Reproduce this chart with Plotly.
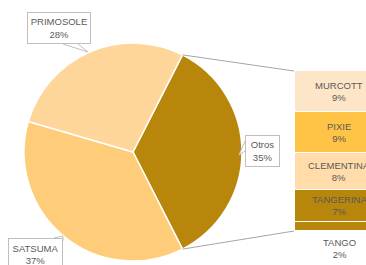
import math
import plotly.graph_objects as go

# ---- data ----
pie_labels = ["Otros", "SATSUMA", "PRIMOSOLE"]
pie_values = [35, 37, 28]
pie_colors = ["#B8860B", "#FFCC7A", "#FFD699"]

bar_labels = ["MURCOTT", "PIXIE", "CLEMENTINA", "TANGERINA", "TANGO"]
bar_values = [9, 9, 8, 7, 2]
bar_colors = ["#FDE5C8", "#FFC445", "#FFDCAA", "#B8860B", "#B8860B"]

W, H = 366, 265
TXT = "#595959"
FONT = "Liberation Sans"

# pie geometry (pixels)
cx, cy, r = 133, 152, 109
total = sum(pie_values)
otros_deg = pie_values[0] / total * 360
rotation = 90 - otros_deg / 2

def px(x):
    return x / W

def py(y):
    return 1 - y / H

fig = go.Figure()
fig.add_trace(go.Pie(
    labels=pie_labels, values=pie_values, sort=False, direction="clockwise",
    rotation=rotation, textinfo="none", hoverinfo="label+percent",
    marker=dict(colors=pie_colors, line=dict(color="white", width=1.5)),
    domain=dict(x=[px(cx - r), px(cx + r)], y=[py(cy + r), py(cy - r)]),
    showlegend=False,
))

# stacked bar (bottom-up order)
bar_total = sum(bar_values)
bar_top_px, bar_bot_px = 71, 231
bar_left_px, bar_w_px = 295, 88
ppu = (bar_bot_px - bar_top_px) / bar_total
y_lo = -(H - bar_bot_px) / ppu
y_hi = bar_total + bar_top_px / ppu
x_right = -0.5 + (W - bar_left_px) / bar_w_px

for lab, val, col in reversed(list(zip(bar_labels, bar_values, bar_colors))):
    fig.add_trace(go.Bar(
        x=[0], y=[val], width=1, name=lab, showlegend=False,
        marker=dict(color=col, line=dict(color="white", width=1.5)),
        hoverinfo="name+y",
    ))

annotations = []
cum = 0
mids = []
for val in reversed(bar_values):
    mids.append(cum + val / 2)
    cum += val
mids = list(reversed(mids))
for i, (lab, val) in enumerate(zip(bar_labels, bar_values)):
    if val >= 5:
        annotations.append(dict(x=0, y=mids[i], xref="x", yref="y",
                                text=f"{lab}<br>{val}%", showarrow=False,
                                font=dict(size=9.5, color=TXT, family=FONT)))
    else:
        annotations.append(dict(x=0, y=0, xref="x", yref="y", yanchor="top",
                                yshift=-4, text=f"{lab}<br>{val}%", showarrow=False,
                                font=dict(size=9.5, color=TXT, family=FONT)))

shapes = []

def wedge(pts):
    d = "M " + " L ".join(f"{px(a)},{py(b)}" for a, b in pts)
    shapes.append(dict(type="path", xref="paper", yref="paper", path=d,
                       fillcolor="white", line=dict(color="#BFBFBF", width=1),
                       layer="above"))

# pie callout labels
def callout(label, val, x0, y0, x1, y1):
    annotations.append(dict(
        x=px((x0 + x1) / 2), y=py((y0 + y1) / 2), xref="paper", yref="paper",
        text=f"{label}<br>{val}%", showarrow=False,
        font=dict(size=9.5, color=TXT, family=FONT),
        width=x1 - x0 - 4, height=y1 - y0 - 4, borderpad=1,
        bgcolor="white", bordercolor="#BFBFBF", borderwidth=1,
        xanchor="center", yanchor="middle",
    ))

callout(pie_labels[2], pie_values[2], 27, 12, 91, 44)
wedge([(63, 44), (88, 52), (78, 44)])
callout(pie_labels[0], pie_values[0], 245, 135, 280, 167)
wedge([(245, 141), (239, 155), (245, 151)])
callout(pie_labels[1], pie_values[1], 8, 238, 63, 271)
wedge([(54, 238), (63, 236), (63, 241)])

# connector lines from Otros slice edges to bar corners
a1 = math.radians(rotation)
a2 = math.radians(rotation + otros_deg)
p1 = (cx + r * math.sin(a1), cy - r * math.cos(a1))
p2 = (cx + r * math.sin(a2), cy - r * math.cos(a2))
for (ax, ay), by in ((p1, bar_top_px), (p2, bar_bot_px)):
    shapes.append(dict(type="line", xref="paper", yref="paper",
                       x0=px(ax), y0=py(ay), x1=px(bar_left_px - 1), y1=py(by),
                       line=dict(color="#A6A6A6", width=1)))

fig.update_layout(
    width=W, height=H, margin=dict(l=0, r=0, t=0, b=0),
    paper_bgcolor="white", plot_bgcolor="rgba(0,0,0,0)",
    barmode="stack", bargap=0,
    xaxis=dict(domain=[px(bar_left_px), 1], range=[-0.5, x_right], visible=False,
               fixedrange=True),
    yaxis=dict(domain=[0, 1], range=[y_lo, y_hi], visible=False, fixedrange=True),
    annotations=annotations, shapes=shapes,
    font=dict(family=FONT, color=TXT),
)

fig.write_html("out.html", config={"displayModeBar": False},
               post_script="document.body.style.margin='0';")
